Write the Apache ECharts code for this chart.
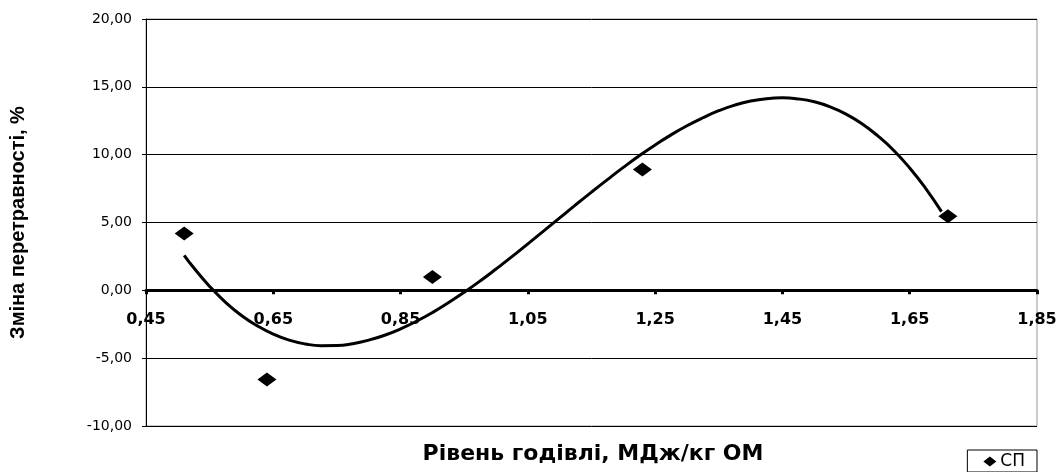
<!DOCTYPE html>
<html>
<head>
<meta charset="utf-8">
<script src="https://cdn.jsdelivr.net/npm/echarts@6/dist/echarts.min.js"></script>
<style>
html,body{margin:0;padding:0;background:#fff;}
#chart{width:1063px;height:472px;}
</style>
</head>
<body>
<div id="chart"></div>
<script>
// Observed points (СП)
const spX = [0.51, 0.64, 0.90, 1.23, 1.71];
const spY = [4.19, -6.57, 0.98, 8.90, 5.46];
// Trend curve
const curveX = [0.51, 0.525, 0.55, 0.575, 0.60, 0.625, 0.65, 0.675, 0.70, 0.725, 0.75, 0.775, 0.80, 0.825, 0.85, 0.875, 0.90, 0.925, 0.95, 0.975, 1.00, 1.025, 1.05, 1.075, 1.10, 1.125, 1.15, 1.175, 1.20, 1.225, 1.25, 1.275, 1.30, 1.325, 1.35, 1.375, 1.40, 1.425, 1.45, 1.475, 1.50, 1.525, 1.55, 1.575, 1.60, 1.625, 1.65, 1.675, 1.70];
const curveY = [2.58, 1.66, 0.29, -0.88, -1.85, -2.62, -3.23, -3.67, -3.95, -4.08, -4.07, -3.93, -3.67, -3.31, -2.84, -2.28, -1.64, -0.92, -0.14, 0.69, 1.57, 2.48, 3.43, 4.38, 5.34, 6.30, 7.24, 8.16, 9.06, 9.92, 10.72, 11.46, 12.13, 12.72, 13.24, 13.65, 13.95, 14.13, 14.19, 14.11, 13.90, 13.53, 12.99, 12.28, 11.38, 10.31, 9.02, 7.52, 5.80];
// Tick labels
const xTicks = [0.45, 0.65, 0.85, 1.05, 1.25, 1.45, 1.65, 1.85];
const yTicks = [-10, -5, 0, 5, 10, 15, 20];
const seriesName = 'СП';
const xTitle = 'Рівень годівлі, МДж/кг ОМ';
const yTitle = 'Зміна перетравності, %';

const fmt = v => v.toFixed(2).replace('.', ',');

const gridTop = 19, gridBottom = 46, H = 472;
const plotH = H - gridTop - gridBottom;
const yMin = yTicks[0], yMax = yTicks[yTicks.length - 1];
// shift x axis up so that it sits on y = 0
const zeroOffset = -plotH * (0 - yMin) / (yMax - yMin);

const chart = echarts.init(document.getElementById('chart'), null, {renderer: 'canvas'});
chart.setOption({
  animation: false,
  backgroundColor: '#fff',
  grid: {left: 144, right: 26, top: gridTop, bottom: gridBottom, show: true, borderColor: '#999', borderWidth: 1, containLabel: false},
  xAxis: {
    type: 'value', min: xTicks[0], max: xTicks[xTicks.length - 1],
    offset: zeroOffset,
    axisLine: {onZero: false, lineStyle: {color: '#000', width: 3}},
    axisTick: {show: true, length: 4, customValues: xTicks, lineStyle: {color: '#000', width: 3}},
    axisLabel: {customValues: xTicks, formatter: fmt, margin: 22, color: '#000', fontFamily: 'DejaVu Sans', fontWeight: 'bold', fontSize: 16},
    splitLine: {show: false}
  },
  yAxis: {
    type: 'value', min: yMin, max: yMax, interval: 5,
    name: yTitle, nameLocation: 'middle', nameRotate: 90, nameGap: 118,
    nameTextStyle: {fontFamily: 'Liberation Sans', fontWeight: 'bold', fontSize: 20, color: '#000'},
    axisLine: {show: true, onZero: false, lineStyle: {color: '#000', width: 1}},
    axisTick: {show: true, length: 4, lineStyle: {color: '#000'}},
    axisLabel: {formatter: fmt, margin: 14, color: '#000', fontFamily: 'DejaVu Sans', fontSize: 14},
    splitLine: {show: true, lineStyle: {color: '#000', width: 1}}
  },
  legend: {
    right: 26, bottom: 0, orient: 'horizontal',
    data: [{name: seriesName, icon: 'diamond'}],
    itemWidth: 13, itemHeight: 10, itemGap: 4,
    borderColor: '#000', borderWidth: 1, padding: [3, 12, 2, 16],
    textStyle: {fontFamily: 'DejaVu Sans', fontSize: 17, color: '#000', padding: [0, 0, 0, -1]}
  },
  graphic: [{
    type: 'text', x: 593, y: 454,
    style: {text: xTitle, fill: '#000', font: 'bold 22px "DejaVu Sans"', textAlign: 'center', textVerticalAlign: 'middle'}
  }],
  series: [
    {
      name: 'trend', type: 'line', smooth: true, showSymbol: false,
      data: curveX.map((x, i) => [x, curveY[i]]),
      lineStyle: {color: '#000', width: 3}, z: 3, silent: true
    },
    {
      name: seriesName, type: 'scatter', symbol: 'diamond', symbolSize: [19, 14],
      data: spX.map((x, i) => [x, spY[i]]),
      itemStyle: {color: '#000', opacity: 1}, z: 4
    }
  ]
});
</script>
</body>
</html>
